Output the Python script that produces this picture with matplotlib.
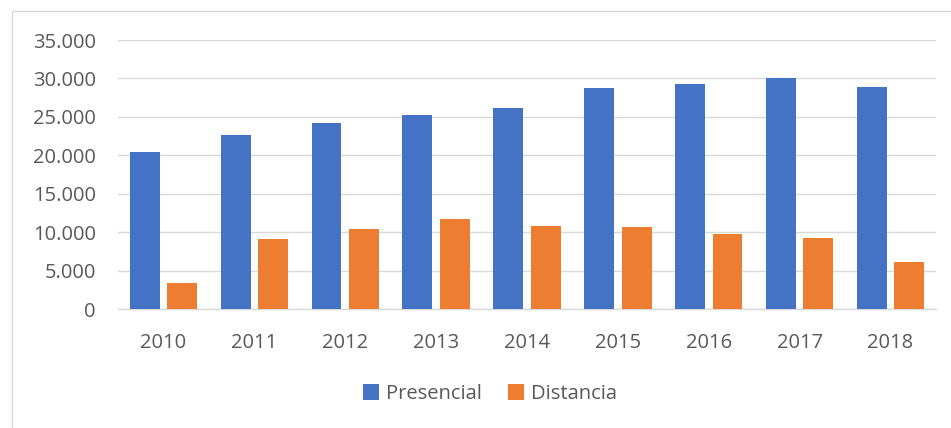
import matplotlib
matplotlib.use("Agg")
import matplotlib.pyplot as plt
import numpy as np
from matplotlib.patches import Rectangle
from matplotlib.ticker import FuncFormatter

years = ["2010", "2011", "2012", "2013", "2014", "2015", "2016", "2017", "2018"]
presencial = [20500, 22600, 24200, 25300, 26100, 28700, 29250, 30070, 28860]
distancia = [3380, 9100, 10400, 11700, 10830, 10700, 9840, 9270, 6200]
series_names = ["Presencial", "Distancia"]
colors = ["#4472C4", "#ED7D31"]
yticks = [0, 5000, 10000, 15000, 20000, 25000, 30000, 35000]

plt.rcParams['font.family'] = ['Open Sans', 'DejaVu Sans']
text_color = "#595959"

fig = plt.figure(figsize=(9.51, 4.28), dpi=100)
ax = fig.add_axes([118/951, 1 - 309.3/428, (936-118)/951, (309.3-40)/428])

x = np.arange(len(years))
w = 0.33
off = 0.206
ax.bar(x - off, presencial, width=w, color=colors[0], label=series_names[0], zorder=3)
ax.bar(x + off, distancia, width=w, color=colors[1], label=series_names[1], zorder=3)

ax.set_xlim(-0.5, len(years) - 0.5)
ax.set_ylim(0, 35000)
ax.set_yticks(yticks)
ax.yaxis.set_major_formatter(FuncFormatter(lambda v, p: f"{int(v):,}".replace(",", ".")))
ax.set_xticks(x)
ax.set_xticklabels(years)
ax.yaxis.grid(True, color="#d9d9d9", linewidth=1.0, zorder=0)
ax.set_axisbelow(True)
for s in ["top", "right", "left"]:
    ax.spines[s].set_visible(False)
ax.spines["bottom"].set_color("#d9d9d9")
ax.spines["bottom"].set_linewidth(1.0)
ax.tick_params(axis="both", length=0, labelsize=14.5, labelcolor=text_color)
ax.tick_params(axis="y", pad=16)
ax.tick_params(axis="x", pad=17)

leg = fig.legend(loc="center", bbox_to_anchor=(490/951, 1 - 394/428), ncol=2, frameon=False,
                 fontsize=14.5, handlelength=0.8, handleheight=0.8, handletextpad=0.35,
                 columnspacing=1.3)
for t in leg.get_texts():
    t.set_color(text_color)

fig.patches.append(Rectangle((12/951, -0.1), 1.2, 1.1 - 11/428 + 0.0, transform=fig.transFigure,
                             fill=False, edgecolor="#d9d9d9", linewidth=1.0))

fig.savefig("out.png", dpi=100)
